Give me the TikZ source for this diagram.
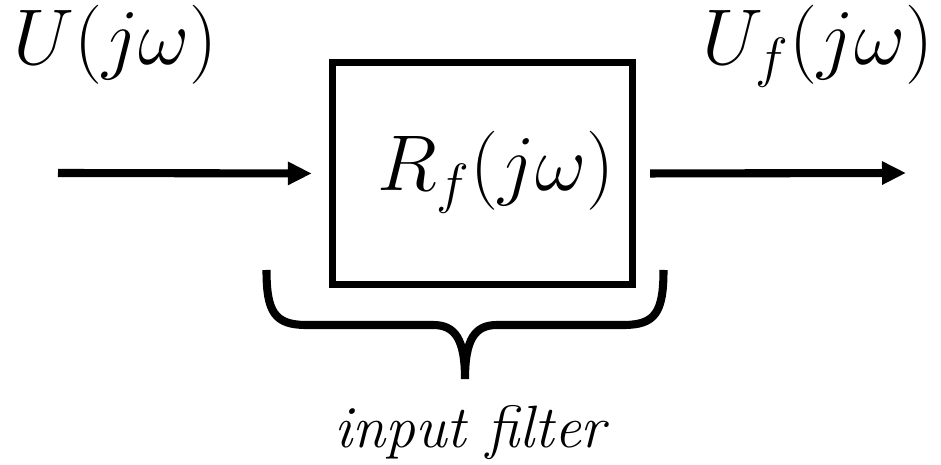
\RequirePackage{fix-cm}
\documentclass[tikz,border=0pt]{standalone}
\usepackage{fontspec}
\usetikzlibrary{positioning, calc, arrows.meta}

\begin{document}
\begin{tikzpicture}[
        blk/.style={draw, line width=2.1pt, minimum width=3cm, minimum height=2.22cm, inner sep=0pt},
        sig/.style={line width=2.3pt, -{Triangle[length=0.24cm,width=0.22cm]}},
        lbl/.style={font=\fontsize{22.5}{27}\selectfont, inner sep=0pt, anchor=base}]
        \useasboundingbox (0,0) rectangle (9.41,4.65);
        %disegno blocco
        \node[blk] (filt) at (4.825,2.915) {};
        \node[lbl] (rf) at (4.96,2.74) {$R_f(j\omega)$};
        %disegno segnali
        \coordinate (in) at (0.58,2.92);
        \coordinate (out) at (9.06,2.92);
        \draw[sig, shorten >=0.17cm] (in) -- (filt.west);
        \draw[sig, shorten <=0.14cm] (filt.east) -- (out);
        \node[lbl] (u) at (1.155,4.0) {$U(j\omega)$};
        \node[lbl] (uf) at (8.18,4.0) {$U_f(j\omega)$};
        %disegno graffa
        \coordinate (bl) at (2.665,1.95);
        \coordinate (bt) at (4.65,0.86);
        \coordinate (br) at (6.635,1.95);
        \draw[line width=2.3pt] (bl) .. controls ($(bl)+(0,-0.42)$) and ($(bl)+(0.08,-0.55)$) .. ($(bl)+(0.4,-0.55)$)
            -- ($(bt)+(-0.32,0.54)$) .. controls ($(bt)+(-0.1,0.54)$) and ($(bt)+(0,0.4)$) .. (bt)
            .. controls ($(bt)+(0,0.4)$) and ($(bt)+(0.1,0.54)$) .. ($(bt)+(0.32,0.54)$)
            -- ($(br)+(-0.4,-0.55)$) .. controls ($(br)+(-0.08,-0.55)$) and ($(br)+(0,-0.42)$) .. (br);
        \node[anchor=base, inner sep=0pt, font=\itshape\fontsize{17}{21}\selectfont] (cap) at (4.70,0.17) {input filter};
    \end{tikzpicture}
\end{document}
